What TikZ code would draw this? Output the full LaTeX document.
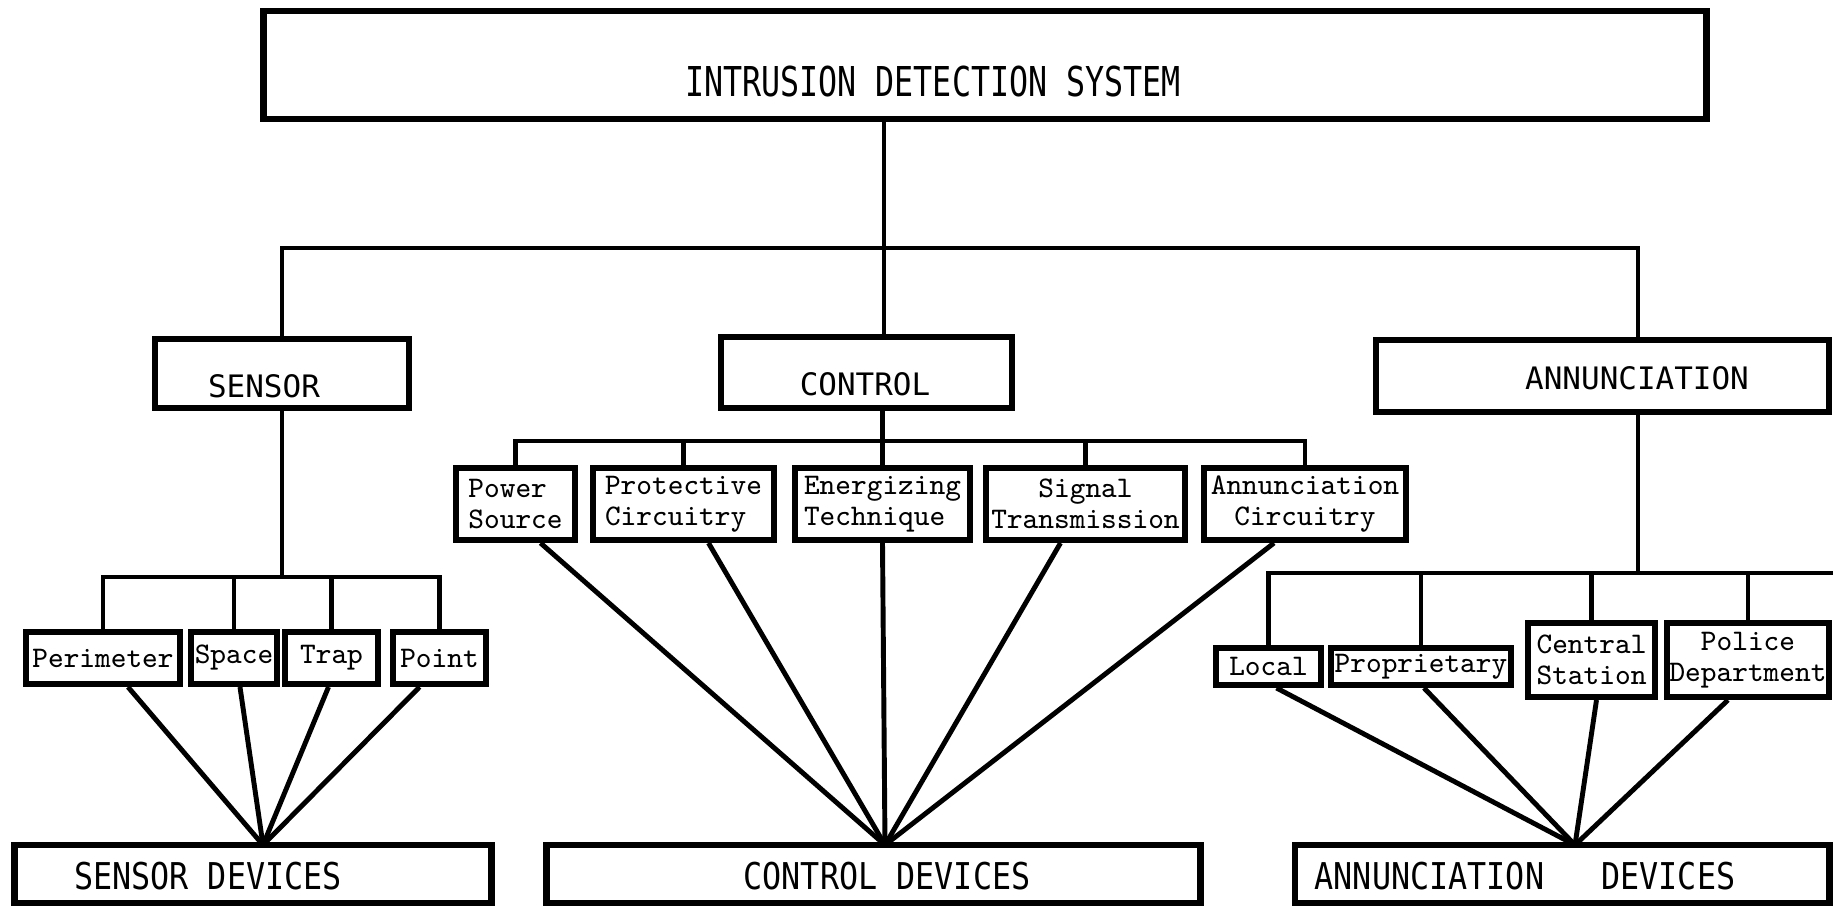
\documentclass[tikz,border=0pt]{standalone}
\usepackage{fontspec}
\usepackage{tikz}
\usetikzlibrary{positioning,calc}
\newfontfamily\titlefont[FakeStretch=0.77]{DejaVu Sans Mono}
\newfontfamily\devfont[FakeStretch=0.86]{DejaVu Sans Mono}
\newfontfamily\headfont{DejaVu Sans Mono}

\tikzset{
    mainbox/.style={draw, line width=1.9pt, inner sep=0pt},
    itembox/.style={draw, line width=1.7pt, inner sep=0pt, align=center,
        font=\fontsize{8.5}{8.7}\selectfont\ttfamily},
    conn/.style={line width=1.4pt},
    titletext/.style={font=\titlefont\fontsize{11.7}{12}\selectfont},
    headtext/.style={font=\headfont\fontsize{8.8}{9}\selectfont},
    devtext/.style={font=\devfont\fontsize{10.5}{11}\selectfont}
}

\begin{document}
\begin{tikzpicture}[x=0.01cm, y=-0.01cm]
    \useasboundingbox (0,0) rectangle (1833,907);

    % System
    \node[mainbox, minimum width=14.42cm, minimum height=1.08cm] (ids) at (985,65) {};
    \node[titletext] (idstext) at (933,82) {INTRUSION DETECTION SYSTEM};

    % Subsystems
    \node[mainbox, minimum width=2.54cm, minimum height=0.69cm] (sensor) at (282,373.5) {};
    \node[headtext] (sensortext) at (264,386) {SENSOR};
    \node[mainbox, minimum width=2.91cm, minimum height=0.71cm] (control) at (866.5,372.5) {};
    \node[headtext] (controltext) at (865,384) {CONTROL};
    \node[mainbox, minimum width=4.53cm, minimum height=0.72cm] (annun) at (1602.5,376) {};
    \node[headtext] (annuntext) at (1637,378) {ANNUNCIATION};

    % Sensor types
    \node[itembox, minimum width=1.54cm, minimum height=0.52cm] (per) at (103,658) {Perimeter};
    \node[itembox, minimum width=0.86cm, minimum height=0.52cm] (spa) at (234,658) {Space};
    \node[itembox, minimum width=0.93cm, minimum height=0.52cm] (trap) at (331.5,658) {Trap};
    \node[itembox, minimum width=0.93cm, minimum height=0.52cm] (pt) at (439.5,658) {Point};

    % Control functions
    \node[itembox, align=left, minimum width=1.19cm, minimum height=0.72cm] (ps) at (515.5,504) {Power\\Source};
    \node[itembox, align=left, minimum width=1.81cm, minimum height=0.72cm] (pc) at (683.5,504) {Protective\\Circuitry};
    \node[itembox, align=left, minimum width=1.75cm, minimum height=0.72cm] (et) at (882.5,504) {Energizing\\Technique};
    \node[itembox, minimum width=1.99cm, minimum height=0.72cm] (st) at (1085.5,504) {Signal\\Transmission};
    \node[itembox, minimum width=2.02cm, minimum height=0.72cm] (ac) at (1305,504) {Annunciation\\Circuitry};

    % Annunciation types
    \node[itembox, minimum width=1.05cm, minimum height=0.37cm] (loc) at (1268.5,666.5) {Local};
    \node[itembox, minimum width=1.80cm, minimum height=0.37cm] (prop) at (1421,666.5) {Proprietary};
    \node[itembox, minimum width=1.27cm, minimum height=0.74cm] (cs) at (1591.5,660) {Central\\Station};
    \node[itembox, minimum width=1.62cm, minimum height=0.74cm] (pd) at (1748,660) {Police\\Department};

    % Devices
    \node[mainbox, minimum width=4.77cm, minimum height=0.58cm] (sd) at (253,874) {};
    \node[devtext] (sdtext) at (208,876) {SENSOR DEVICES};
    \node[mainbox, minimum width=6.54cm, minimum height=0.58cm] (cd) at (873.5,874) {};
    \node[devtext] (cdtext) at (887,876) {CONTROL DEVICES};
    \node[mainbox, minimum width=5.34cm, minimum height=0.58cm] (ad) at (1562,874) {};
    \node[devtext] (adtext) at (1525,876) {ANNUNCIATION\ \ \ DEVICES};

    % Bus points
    \coordinate (hub) at (884,248);
    \coordinate (abus) at (1638,248);
    \coordinate (sbus) at (0,577);
    \coordinate (cbus) at (0,441);
    \coordinate (atie) at (0,573);
    \coordinate (aend) at (1833,573);
    \coordinate (sfan) at (263,845);
    \coordinate (cfan) at (885,845);
    \coordinate (afan) at (1575,845);

    % Tree
    \draw[conn] (ids.south -| hub) -- (hub |- control.north);
    \draw[conn] (sensor.north) |- (abus) -- (abus |- annun.north);

    \draw[conn] (sensor.south) -- (sensor.south |- sbus);
    \draw[conn] (per.north) -- (per.north |- sbus) -- (pt.north |- sbus) -- (pt.north);
    \draw[conn] (spa.north) -- (spa.north |- sbus);
    \draw[conn] (trap.north) -- (trap.north |- sbus);

    \draw[conn] (control.south -| et.north) -- (et.north);
    \draw[conn] (ps.north) -- (ps.north |- cbus) -- (ac.north |- cbus) -- (ac.north);
    \draw[conn] (pc.north) -- (pc.north |- cbus);
    \draw[conn] (st.north) -- (st.north |- cbus);

    \draw[conn] (annun.south -| abus) -- (abus |- atie);
    \draw[conn] (loc.north) -- (loc.north |- atie) -- (aend);
    \draw[conn] (prop.north) -- (prop.north |- atie);
    \draw[conn] (cs.north) -- (cs.north |- atie);
    \draw[conn] (pd.north) -- (pd.north |- atie);

    % Fans to devices
    \draw[conn] ($(per.south)+(25,0)$) -- (sfan);
    \draw[conn] ($(spa.south)+(6,0)$) -- (sfan);
    \draw[conn] ($(trap.south)+(-3,0)$) -- (sfan);
    \draw[conn] ($(pt.south)+(-20,0)$) -- (sfan);

    \draw[conn] ($(ps.south)+(25,0)$) -- (cfan);
    \draw[conn] ($(pc.south)+(25,0)$) -- (cfan);
    \draw[conn] (et.south) -- (cfan);
    \draw[conn] ($(st.south)+(-25,0)$) -- (cfan);
    \draw[conn] ($(ac.south)+(-31,0)$) -- (cfan);

    \draw[conn] ($(loc.south)+(8,0)$) -- (afan);
    \draw[conn] ($(prop.south)+(3,0)$) -- (afan);
    \draw[conn] ($(cs.south)+(5,0)$) -- (afan);
    \draw[conn] ($(pd.south)+(-20,0)$) -- (afan);

\end{tikzpicture}
\end{document}
